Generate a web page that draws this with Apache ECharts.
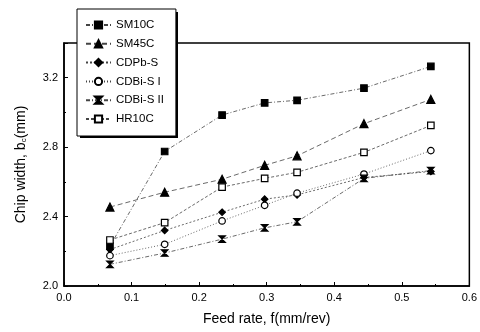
<!DOCTYPE html>
<html>
<head>
<meta charset="utf-8">
<script src="https://cdn.jsdelivr.net/npm/echarts@6/dist/echarts.min.js"></script>
<style>
  html, body { margin: 0; padding: 0; background: #fff; }
  #chart { width: 480px; height: 332px; }
</style>
</head>
<body>
<div id="chart"></div>
<script>
// feed rates (mm/rev)
const feed = [0.068, 0.149, 0.234, 0.297, 0.345, 0.444, 0.543];

const seriesNames = ['SM10C', 'SM45C', 'CDPb-S', 'CDBi-S I', 'CDBi-S II', 'HR10C'];

// chip width b_c (mm)
const sm10c = [2.23, 2.775, 2.985, 3.055, 3.07, 3.14, 3.265];
const sm45c = [2.455, 2.54, 2.615, 2.695, 2.75, 2.935, 3.075];
const cdpbs = [2.21, 2.32, 2.425, 2.5, 2.525, 2.625, 2.66];
const cdbis1 = [2.175, 2.24, 2.375, 2.465, 2.535, 2.645, 2.78];
const cdbis2 = [2.125, 2.19, 2.27, 2.335, 2.37, 2.62, 2.665];
const hr10c = [2.265, 2.365, 2.57, 2.62, 2.655, 2.77, 2.925];

const xTicks = [0.0, 0.1, 0.2, 0.3, 0.4, 0.5, 0.6];
const yTicks = [2.0, 2.4, 2.8, 3.2];

let myChart = echarts.init(document.getElementById('chart'));

const font = 'Liberation Sans, Arial, sans-serif';
const hourglass = 'path://M0,0 L10,0 L0,10 L10,10 Z';

function pairs(ys) {
  return feed.map((x, i) => [x, ys[i]]);
}

function mkSeries(name, ys, symbol, filled, dash) {
  return {
    name: name,
    type: 'line',
    data: pairs(ys),
    symbol: symbol,
    symbolSize: symbol === 'triangle' ? 8 : 6.5,
    showSymbol: true,
    animation: false,
    itemStyle: {
      color: filled ? '#000' : '#fff',
      borderColor: '#000',
      borderWidth: 1.2,
    },
    lineStyle: {
      color: '#444',
      width: 0.8,
      type: dash,
    },
  };
}

let option = {
  backgroundColor: '#fff',
  animation: false,
  textStyle: { fontFamily: font },
  grid: {
    left: 64,
    right: 9,
    top: 43,
    bottom: 46,
    show: true,
    borderColor: '#000',
    borderWidth: 1.5,
  },
  // solid drop shadow behind the legend box
  graphic: [
    {
      type: 'rect',
      left: 80,
      top: 12,
      shape: { width: 98, height: 126 },
      style: { fill: '#000' },
      z: 3,
    },
  ],
  legend: {
    orient: 'vertical',
    left: 77,
    top: 9,
    padding: [10, 12, 11, 8],
    itemWidth: 25,
    itemHeight: 9,
    itemGap: 6.8,
    backgroundColor: '#fff',
    borderColor: '#000',
    borderWidth: 1,
    z: 5,
    selectedMode: false,
    data: seriesNames,
    textStyle: { fontFamily: font, fontSize: 11.5, color: '#000' },
  },
  xAxis: {
    type: 'value',
    min: 0,
    max: 0.6,
    interval: 0.1,
    name: 'Feed rate, f(mm/rev)',
    nameLocation: 'middle',
    nameGap: 26,
    nameTextStyle: { fontFamily: font, fontSize: 14, color: '#000' },
    axisLine: { show: true, lineStyle: { color: '#000', width: 1.5 } },
    axisTick: { show: true, inside: true, length: 4, lineStyle: { color: '#000' } },
    minorTick: { show: true, splitNumber: 2, length: 2, lineStyle: { color: '#000' } },
    splitLine: { show: false },
    axisLabel: {
      color: '#000',
      fontSize: 11,
      margin: 6,
      formatter: (v) => (xTicks.some((t) => Math.abs(t - v) < 1e-6) ? v.toFixed(1) : ''),
    },
  },
  yAxis: {
    type: 'value',
    min: 2.0,
    max: 3.4,
    interval: 0.4,
    name: '{a|Chip width, b}{s|c}{a|(mm)}',
    nameLocation: 'middle',
    nameGap: 36,
    nameTextStyle: {
      rich: {
        a: { fontFamily: font, fontSize: 14, color: '#000' },
        s: { fontFamily: font, fontSize: 8, color: '#000', verticalAlign: 'bottom', padding: [6, 0, 0, 0] },
      },
    },
    axisLine: { show: true, lineStyle: { color: '#000', width: 1.5 } },
    axisTick: { show: true, inside: true, length: 4, lineStyle: { color: '#000' } },
    minorTick: { show: true, splitNumber: 2, length: 2, lineStyle: { color: '#000' } },
    splitLine: { show: false },
    axisLabel: {
      color: '#000',
      fontSize: 11,
      margin: 6,
      showMaxLabel: false,
      formatter: (v) => (yTicks.some((t) => Math.abs(t - v) < 1e-6) ? v.toFixed(1) : ''),
    },
  },
  series: [
    mkSeries('SM10C', sm10c, 'rect', true, [4, 2, 1, 2]),
    mkSeries('SM45C', sm45c, 'triangle', true, [5, 3]),
    mkSeries('CDPb-S', cdpbs, 'diamond', true, [2, 2]),
    mkSeries('CDBi-S I', cdbis1, 'circle', false, [1, 2]),
    mkSeries('CDBi-S II', cdbis2, hourglass, true, [4, 2, 1, 2]),
    mkSeries('HR10C', hr10c, 'rect', false, [3, 2]),
  ],
};

myChart.setOption(option);
</script>
</body>
</html>
